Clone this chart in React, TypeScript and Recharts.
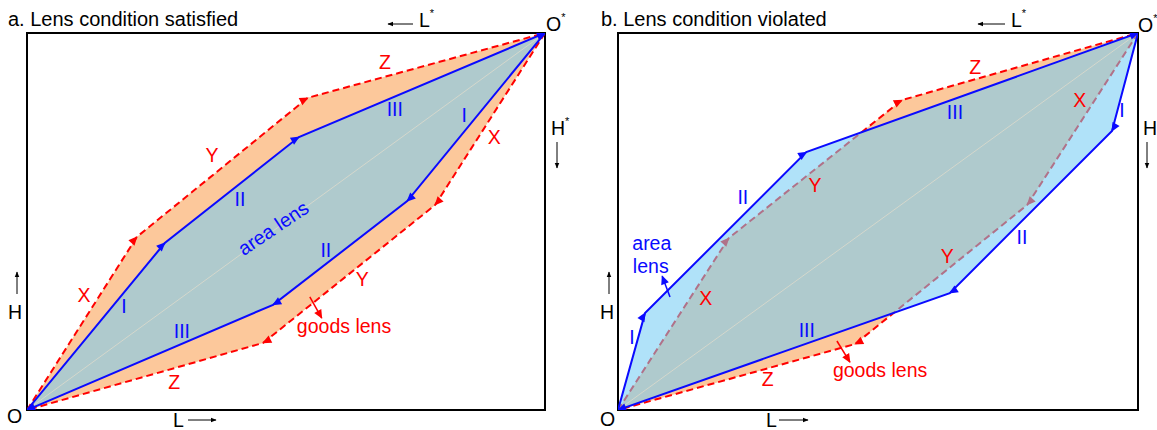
import React from 'react';
import { ComposedChart, Area, Line, Scatter, XAxis, YAxis, ReferenceArea } from 'recharts';

const RED = '#ff0000';
const BLUE = '#0a0aff';
const ORANGE = '#fcc89b';
const SKY = 'rgb(114,204,245)';
const FONT = '"Liberation Sans", Arial, sans-serif';

// panel a: lens condition satisfied (L share on x, H share on y, 0..100)
const goodsUpperA = [{ x: 0, y: 0 }, { x: 21.2, y: 45.9 }, { x: 54.2, y: 82.8 }, { x: 100, y: 100 }];
const goodsLowerA = [{ x: 100, y: 100 }, { x: 78.8, y: 54.4 }, { x: 45.6, y: 17.8 }, { x: 0, y: 0 }];
const areaUpperA = [{ x: 0, y: 0 }, { x: 26.6, y: 44.3 }, { x: 52.5, y: 72.4 }, { x: 100, y: 100 }];
const areaLowerA = [{ x: 100, y: 100 }, { x: 73.4, y: 55.4 }, { x: 47.5, y: 27.9 }, { x: 0, y: 0 }];

// panel b: lens condition violated
const goodsUpperB = [{ x: 0, y: 0 }, { x: 21.3, y: 45.6 }, { x: 54.6, y: 82.2 }, { x: 100, y: 100 }];
const goodsLowerB = [{ x: 100, y: 100 }, { x: 78.7, y: 54.4 }, { x: 45.6, y: 17.5 }, { x: 0, y: 0 }];
const areaUpperB = [{ x: 0, y: 0 }, { x: 5.2, y: 25.7 }, { x: 36.2, y: 68.4 }, { x: 100, y: 100 }];
const areaLowerB = [{ x: 100, y: 100 }, { x: 95.0, y: 74.0 }, { x: 63.8, y: 31.0 }, { x: 0, y: 0 }];

const diagonal = [{ x: 0, y: 0 }, { x: 100, y: 100 }];

const labelsA = [
  { x: 11.0, y: 30.5, t: 'X', c: 'r' },
  { x: 35.7, y: 67.6, t: 'Y', c: 'r' },
  { x: 69.1, y: 92.3, t: 'Z', c: 'r' },
  { x: 28.4, y: 7.4, t: 'Z', c: 'r' },
  { x: 64.7, y: 34.7, t: 'Y', c: 'r' },
  { x: 90.2, y: 72.4, t: 'X', c: 'r' },
  { x: 18.7, y: 27.6, t: 'I', c: 'b' },
  { x: 41.1, y: 56.0, t: 'II', c: 'b' },
  { x: 71.0, y: 79.8, t: 'III', c: 'b' },
  { x: 84.4, y: 78.2, t: 'I', c: 'b' },
  { x: 57.7, y: 42.4, t: 'II', c: 'b' },
  { x: 29.9, y: 21.0, t: 'III', c: 'b' },
  { x: 47.5, y: 48.3, t: 'area lens', c: 'b', a: -34 },
  { x: 61.2, y: 22.3, t: 'goods lens', c: 'r' },
];

const labelsB = [
  { x: 68.7, y: 91.0, t: 'Z', c: 'r' },
  { x: 37.9, y: 59.7, t: 'Y', c: 'r' },
  { x: 16.9, y: 29.7, t: 'X', c: 'r' },
  { x: 88.8, y: 82.2, t: 'X', c: 'r' },
  { x: 63.3, y: 40.8, t: 'Y', c: 'r' },
  { x: 28.8, y: 8.2, t: 'Z', c: 'r' },
  { x: 96.9, y: 79.6, t: 'I', c: 'b' },
  { x: 24.0, y: 56.5, t: 'II', c: 'b' },
  { x: 64.8, y: 79.0, t: 'III', c: 'b' },
  { x: 2.7, y: 19.4, t: 'I', c: 'b' },
  { x: 77.7, y: 45.9, t: 'II', c: 'b' },
  { x: 36.3, y: 21.2, t: 'III', c: 'b' },
  { x: 6.5, y: 44.3, t: 'area', c: 'b' },
  { x: 6.3, y: 38.2, t: 'lens', c: 'b' },
  { x: 50.4, y: 10.6, t: 'goods lens', c: 'r' },
];

const goodsPointerA = [{ x: 54.6, y: 30.0 }, { x: 56.9, y: 24.4 }];
const goodsPointerB = [{ x: 42.1, y: 18.3 }, { x: 44.6, y: 12.7 }];
const areaPointerB = [{ x: 10.0, y: 30.0 }, { x: 8.5, y: 35.5 }];

const labelShape = (p: any) => {
  const d = p.payload ?? p;
  return (
    <text
      x={p.cx}
      y={p.cy}
      textAnchor="middle"
      dominantBaseline="central"
      fill={d.c === 'r' ? RED : BLUE}
      fontSize={19.5}
      fontFamily={FONT}
      transform={d.a ? `rotate(${d.a} ${p.cx} ${p.cy})` : undefined}
    >
      {d.t}
    </text>
  );
};

const Markers = ({ id }: { id: string }) => (
  <defs>
    <marker id={`r${id}`} viewBox="0 0 10 10" refX="9" refY="5" markerWidth="10" markerHeight="9" markerUnits="userSpaceOnUse" orient="auto">
      <path d="M0,0.5 L10,5 L0,9.5 Z" fill={RED} />
    </marker>
    <marker id={`b${id}`} viewBox="0 0 10 10" refX="9" refY="5" markerWidth="10" markerHeight="9" markerUnits="userSpaceOnUse" orient="auto">
      <path d="M0,0.5 L10,5 L0,9.5 Z" fill={BLUE} />
    </marker>
    <marker id={`k${id}`} viewBox="0 0 10 10" refX="9" refY="5" markerWidth="6" markerHeight="6" markerUnits="userSpaceOnUse" orient="auto">
      <path d="M0,1 L10,5 L0,9 Z" fill="#000" />
    </marker>
  </defs>
);

interface PanelProps {
  id: string;
  width: number;
  margin: { top: number; left: number; right: number; bottom: number };
  goodsUpper: { x: number; y: number }[];
  goodsLower: { x: number; y: number }[];
  areaUpper: { x: number; y: number }[];
  areaLower: { x: number; y: number }[];
  labels: any[];
  pointers: { data: { x: number; y: number }[]; color: string }[];
  children?: React.ReactNode;
}

const Panel = ({ id, width, margin, goodsUpper, goodsLower, areaUpper, areaLower, labels, pointers, children }: PanelProps) => {
  const goodsLoop = [...goodsUpper, ...goodsLower.slice(1)];
  const areaLoop = [...areaUpper, ...areaLower.slice(1)];
  return (
    <ComposedChart width={width} height={430} margin={margin}>
      <Markers id={id} />
      <XAxis type="number" dataKey="x" domain={[0, 100]} hide allowDataOverflow />
      <YAxis type="number" dataKey="y" domain={[0, 100]} hide allowDataOverflow />
      <ReferenceArea x1={0} x2={100} y1={0} y2={100} fill="none" fillOpacity={0} stroke="#000" strokeWidth={2} ifOverflow="visible" zIndex={1} />
      <Area data={goodsLoop} dataKey="y" type="linear" baseValue={0} fill={ORANGE} fillOpacity={1} stroke="none" dot={false} activeDot={false} isAnimationActive={false} zIndex={2} />
      <Line data={goodsUpper} dataKey="y" type="linear" stroke={RED} strokeWidth={2} strokeDasharray="7 4" dot={false} activeDot={false} markerMid={`url(#r${id})`} markerEnd={`url(#r${id})`} isAnimationActive={false} zIndex={3} />
      <Line data={goodsLower} dataKey="y" type="linear" stroke={RED} strokeWidth={2} strokeDasharray="7 4" dot={false} activeDot={false} markerMid={`url(#r${id})`} markerEnd={`url(#r${id})`} isAnimationActive={false} zIndex={4} />
      <Area data={areaLoop} dataKey="y" type="linear" baseValue={0} fill={SKY} fillOpacity={0.56} stroke="none" dot={false} activeDot={false} isAnimationActive={false} zIndex={5} />
      <Line data={diagonal} dataKey="y" type="linear" stroke="#e4dccb" strokeWidth={0.7} dot={false} activeDot={false} isAnimationActive={false} zIndex={6} />
      <Line data={areaUpper} dataKey="y" type="linear" stroke={BLUE} strokeWidth={2} dot={false} activeDot={false} markerMid={`url(#b${id})`} markerEnd={`url(#b${id})`} isAnimationActive={false} zIndex={7} />
      <Line data={areaLower} dataKey="y" type="linear" stroke={BLUE} strokeWidth={2} dot={false} activeDot={false} markerMid={`url(#b${id})`} markerEnd={`url(#b${id})`} isAnimationActive={false} zIndex={8} />
      {pointers.map((p, i) => (
        <Line key={i} data={p.data} dataKey="y" type="linear" stroke={p.color === 'r' ? RED : BLUE} strokeWidth={1.5} dot={false} activeDot={false} markerEnd={`url(#${p.color}${id})`} isAnimationActive={false} zIndex={9} />
      ))}
      <Scatter data={labels} dataKey="y" shape={labelShape} isAnimationActive={false} zIndex={10} />
      {children}
    </ComposedChart>
  );
};

const txt = { fontFamily: FONT, fontSize: 19.5, fill: '#000' } as const;
const title = { fontFamily: FONT, fontSize: 20, fill: '#000' } as const;

export default function App() {
  return (
    <div style={{ position: 'absolute', left: 0, top: 0, width: 1157, height: 430, background: '#fff', overflow: 'hidden' }}>
      <div style={{ position: 'absolute', left: 0, top: 0 }}>
        <Panel
          id="A"
          width={578}
          margin={{ top: 33, left: 27, right: 33, bottom: 20 }}
          goodsUpper={goodsUpperA}
          goodsLower={goodsLowerA}
          areaUpper={areaUpperA}
          areaLower={areaLowerA}
          labels={labelsA}
          pointers={[{ data: goodsPointerA, color: 'r' }]}
        >
          <text x={8} y={26} {...title}>a. Lens condition satisfied</text>
          <line x1={413} y1={24} x2={388} y2={24} stroke="#000" strokeWidth={1} markerEnd="url(#kA)" />
          <text x={419} y={27} {...txt}>L<tspan fontSize={11} dy={-10}>*</tspan></text>
          <text x={546} y={31} {...txt}>O<tspan fontSize={11} dy={-10}>*</tspan></text>
          <text x={551} y={135} {...txt}>H<tspan fontSize={11} dy={-10}>*</tspan></text>
          <line x1={557} y1={142} x2={557} y2={168} stroke="#000" strokeWidth={1} markerEnd="url(#kA)" />
          <line x1={17} y1={294} x2={17} y2={272} stroke="#000" strokeWidth={1} markerEnd="url(#kA)" />
          <text x={8} y={319} {...txt}>H</text>
          <text x={7} y={423} {...txt}>O</text>
          <text x={173} y={427} {...txt}>L</text>
          <line x1={188} y1={420} x2={216} y2={420} stroke="#000" strokeWidth={1} markerEnd="url(#kA)" />
        </Panel>
      </div>
      <div style={{ position: 'absolute', left: 578, top: 0 }}>
        <Panel
          id="B"
          width={579}
          margin={{ top: 33, left: 40, right: 19, bottom: 20 }}
          goodsUpper={goodsUpperB}
          goodsLower={goodsLowerB}
          areaUpper={areaUpperB}
          areaLower={areaLowerB}
          labels={labelsB}
          pointers={[{ data: goodsPointerB, color: 'r' }, { data: areaPointerB, color: 'b' }]}
        >
          <text x={23} y={26} {...title}>b. Lens condition violated</text>
          <line x1={427} y1={24} x2={400} y2={24} stroke="#000" strokeWidth={1} markerEnd="url(#kB)" />
          <text x={433} y={27} {...txt}>L<tspan fontSize={11} dy={-10}>*</tspan></text>
          <text x={560} y={32} {...txt}>O<tspan fontSize={11} dy={-10}>*</tspan></text>
          <text x={565} y={135} {...txt}>H<tspan fontSize={11} dy={-10}>*</tspan></text>
          <line x1={569} y1={142} x2={569} y2={168} stroke="#000" strokeWidth={1} markerEnd="url(#kB)" />
          <line x1={31} y1={294} x2={31} y2={272} stroke="#000" strokeWidth={1} markerEnd="url(#kB)" />
          <text x={22} y={319} {...txt}>H</text>
          <text x={22} y={426} {...txt}>O</text>
          <text x={188} y={427} {...txt}>L</text>
          <line x1={201} y1={420} x2={230} y2={420} stroke="#000" strokeWidth={1} markerEnd="url(#kB)" />
        </Panel>
      </div>
    </div>
  );
}
